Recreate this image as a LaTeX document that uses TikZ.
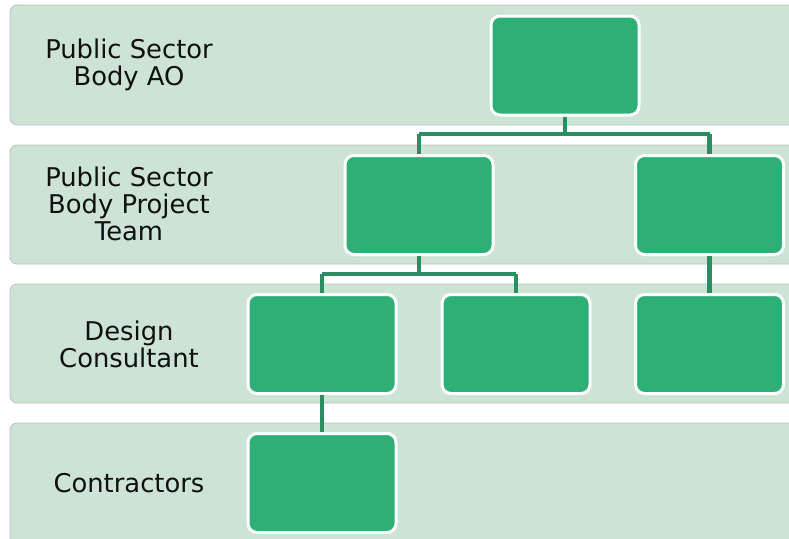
\documentclass[tikz,border=0pt]{standalone}
\usepackage{fontspec}
\setmainfont{DejaVu Sans}
\definecolor{bandfill}{HTML}{CDE3D6}
\definecolor{bandline}{HTML}{B9C4BE}
\definecolor{boxfill}{HTML}{2EAF76}
\definecolor{connline}{HTML}{2A8E60}
\definecolor{labeltext}{HTML}{101010}
\tikzset{
  band/.style={fill=bandfill, draw=bandline, line width=0.8pt, rounded corners=7pt},
  orgbox/.style={rectangle, fill=boxfill, draw=white, line width=3pt, rounded corners=9pt,
    minimum width=148pt, minimum height=99pt, inner sep=0pt},
  rowlabel/.style={align=center, text=labeltext, font=\fontsize{25.8}{27.2}\selectfont, inner sep=0pt},
  conn/.style={draw=connline, line width=4.2pt}
}
\begin{document}
\begin{tikzpicture}[x=1pt, y=-1pt]
\useasboundingbox (0,0) rectangle (789,538);
\clip (0,0) rectangle (789,538);
% bands
\draw[band] (10,5) rectangle (810,125);
\draw[band] (10,145) rectangle (810,264);
\draw[band] (10,284) rectangle (810,403);
\draw[band] (10,423) rectangle (810,560);
% labels
\node[rowlabel] (l1) at (129,65) {Public Sector\\Body AO};
\node[rowlabel] (l2) at (129,204) {Public Sector\\Body Project\\Team};
\node[rowlabel] (l3) at (129,344) {Design\\Consultant};
\node[rowlabel] (l4) at (129,483) {Contractors};
% junction points
\coordinate (j1) at (565,134);
\coordinate (j2) at (419,274);
% boxes
\node[orgbox] (a) at (565,65.5) {};
\node[orgbox] (b1) at (419,205) {};
\node[orgbox] (b2) at (709.5,205) {};
\node[orgbox] (c1) at (322,344) {};
\node[orgbox] (c2) at (516,344) {};
\node[orgbox] (c3) at (709.5,344) {};
\node[orgbox] (d1) at (322,483) {};
% connectors
\draw[conn] (a.south) -- (j1);
\draw[conn] (j1 -| b1) -- (j1 -| b2);
\draw[conn] (j1 -| b1) -- (b1.north);
\draw[conn] (j1 -| b2) -- (b2.north);
\draw[conn] (b1.south) -- (j2);
\draw[conn] (j2 -| c1) -- (j2 -| c2);
\draw[conn] (j2 -| c1) -- (c1.north);
\draw[conn] (j2 -| c2) -- (c2.north);
\draw[conn] (b2.south) -- (c3.north);
\draw[conn] (c1.south) -- (d1.north);
\end{tikzpicture}
\end{document}
